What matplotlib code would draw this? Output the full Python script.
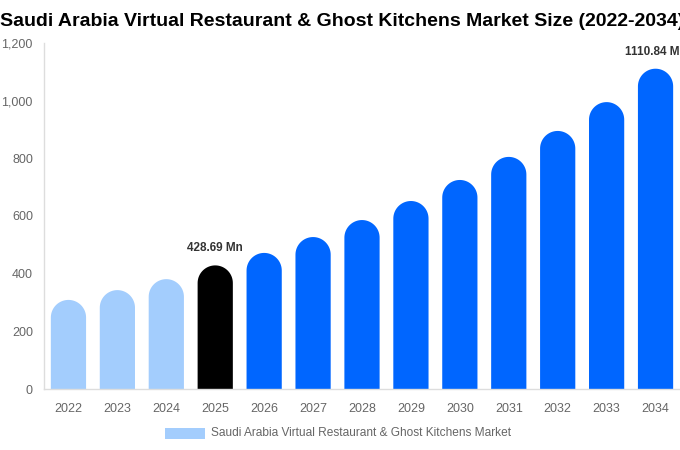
import matplotlib
matplotlib.use("Agg")
import matplotlib.pyplot as plt
import matplotlib.ticker as mticker
import numpy as np
from matplotlib.patches import Rectangle, Polygon

plt.rcParams["font.family"] = ["Liberation Sans", "DejaVu Sans"]

# Data
years = ["2022", "2023", "2024", "2025", "2026", "2027", "2028",
         "2029", "2030", "2031", "2032", "2033", "2034"]
values = [309, 343, 381, 428.69, 472, 527, 586, 652, 725, 805, 895, 995, 1110.84]
colors = ["#a3cdfd"] * 3 + ["#000000"] + ["#0066ff"] * 9
labels = {3: "428.69 Mn", 12: "1110.84 Mn"}

W, H = 6.8, 4.5
fig = plt.figure(figsize=(W, H), dpi=100, facecolor="white")
ax = fig.add_axes([44 / 680, 1 - 389 / 450, 636 / 680, 346 / 450])

ymax = 1200
ax.set_xlim(-0.5, len(years) - 0.5)
ax.set_ylim(0, ymax)

bw = 0.72
# taille en pixels pour garder des sommets bien ronds
px_per_x = 636 / len(years)
px_per_y = 346 / ymax
r_y = (bw * px_per_x / 2) / px_per_y
theta = np.linspace(0, np.pi, 40)

for i, (v, c) in enumerate(zip(values, colors)):
    top = v - r_y
    arc_x = i + (bw / 2) * np.cos(theta)
    arc_y = top + r_y * np.sin(theta)
    xs = np.concatenate([[i + bw / 2], arc_x, [i - bw / 2]])
    ys = np.concatenate([[0], arc_y, [0]])
    ax.add_patch(Polygon(np.column_stack([xs, ys]), closed=True,
                         facecolor=c, edgecolor="none"))
    if i in labels:
        ax.annotate(labels[i], (i, v), textcoords="offset points", xytext=(0, 8),
                    ha="center", va="bottom", fontsize=8.5, fontweight="bold",
                    color="#333333", annotation_clip=False)

ax.set_xticks(range(len(years)))
ax.set_xticklabels(years)
ax.set_yticks(range(0, 1201, 200))
ax.yaxis.set_major_formatter(mticker.FuncFormatter(lambda v, _: f"{int(v):,}"))
ax.tick_params(axis="x", length=0, labelsize=9, colors="#666666", pad=10)
ax.tick_params(axis="y", length=0, labelsize=9, colors="#666666", pad=8)

for s in ["top", "right"]:
    ax.spines[s].set_visible(False)
for s in ["left", "bottom"]:
    ax.spines[s].set_color("#dddddd")
    ax.spines[s].set_linewidth(1)

fig.text(0, 1 - 21 / 450, "Saudi Arabia Virtual Restaurant & Ghost Kitchens Market Size (2022-2034)",
         ha="left", va="center", fontsize=14, fontweight="bold", color="#000000")

# Legende
fig.patches.append(Rectangle((165 / 680, 1 - 439 / 450), 40 / 680, 11 / 450,
                             transform=fig.transFigure, facecolor="#a3cdfd", edgecolor="none"))
fig.text(211 / 680, 1 - 433 / 450, "Saudi Arabia Virtual Restaurant & Ghost Kitchens Market",
         ha="left", va="center", fontsize=8.6, color="#666666")

fig.savefig("out.png", dpi=100, facecolor="white")
